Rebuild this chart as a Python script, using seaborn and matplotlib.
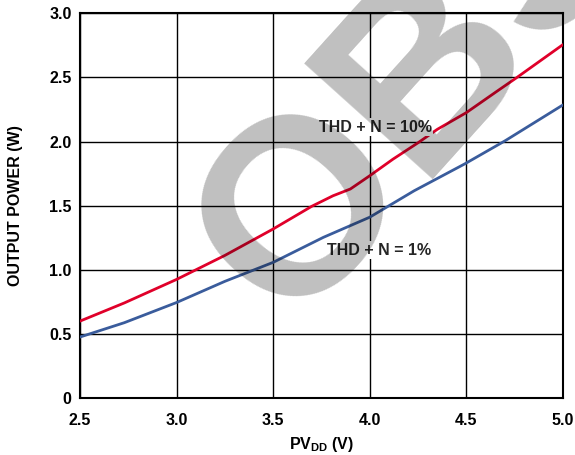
import numpy as np
import pandas as pd
import matplotlib
matplotlib.use("Agg")
import matplotlib.pyplot as plt
import seaborn as sns

# Output power vs supply voltage
pvdd_10 = [2.5, 2.73, 3.0, 3.25, 3.5, 3.7, 3.81, 3.9, 4.0, 4.12, 4.25, 4.35,
           4.5, 4.66, 4.76, 5.0]
thd10 = [0.60, 0.742, 0.925, 1.112, 1.318, 1.495, 1.577, 1.63, 1.733, 1.862,
         1.99, 2.095, 2.225, 2.393, 2.497, 2.755]
pvdd_1 = [2.5, 2.73, 3.0, 3.25, 3.5, 3.76, 4.0, 4.23, 4.49, 4.7, 5.0]
thd1 = [0.476, 0.588, 0.745, 0.91, 1.058, 1.253, 1.41, 1.616, 1.824, 2.005,
        2.285]

x_ticks = [2.5, 3.0, 3.5, 4.0, 4.5, 5.0]
x_ticklabels = ["2.5", "3.0", "3.5", "4.0", "4.5", "5.0"]
y_ticks = [0, 0.5, 1.0, 1.5, 2.0, 2.5, 3.0]
y_ticklabels = ["0", "0.5", "1.0", "1.5", "2.0", "2.5", "3.0"]

label_10 = "THD + N = 10%"
label_1 = "THD + N = 1%"
watermark = "OBSOLETE"

df = pd.concat([
    pd.DataFrame({"pvdd": pvdd_10, "power": thd10, "curve": label_10}),
    pd.DataFrame({"pvdd": pvdd_1, "power": thd1, "curve": label_1}),
], ignore_index=True)

sns.set_theme(style="white")
plt.rcParams["font.family"] = ["Liberation Sans", "DejaVu Sans"]
plt.rcParams["font.weight"] = "bold"
plt.rcParams["mathtext.fontset"] = "custom"
plt.rcParams["mathtext.bf"] = "Liberation Sans:bold"
plt.rcParams["mathtext.rm"] = "Liberation Sans:bold"

fig = plt.figure(figsize=(5.75, 4.55), dpi=100)
ax = fig.add_axes([0.139, 0.125, 0.840, 0.846])

sns.lineplot(data=df, x="pvdd", y="power", hue="curve",
             palette={label_10: "#E0002A", label_1: "#3A5C9C"},
             linewidth=2.0, legend=False, ax=ax, zorder=3)

ax.set_xlim(2.5, 5.0)
ax.set_ylim(0, 3.0)
ax.set_xticks(x_ticks)
ax.set_xticklabels(x_ticklabels)
ax.set_yticks(y_ticks)
ax.set_yticklabels(y_ticklabels)
ax.grid(True, color="black", linewidth=1.0)
ax.tick_params(axis="both", length=0, labelsize=11.5, colors="black")
ax.tick_params(axis="x", pad=11)
ax.tick_params(axis="y", pad=6)
for lbl in ax.get_xticklabels() + ax.get_yticklabels():
    lbl.set_fontweight("bold")
for sp in ax.spines.values():
    sp.set_color("black")
    sp.set_linewidth(1.5)

ax.set_xlabel(r"PV$_{\mathbf{DD}}$ (V)", fontsize=11.5, fontweight="bold",
              color="black", labelpad=5)
ax.set_ylabel("OUTPUT POWER (W)", fontsize=11.5, fontweight="bold",
              color="black", labelpad=19)

box = dict(facecolor="white", edgecolor="none", pad=1)
ax.text(4.03, 2.11, label_10, ha="center", va="center", fontsize=11.5,
        fontweight="bold", bbox=box, zorder=4)
ax.text(4.05, 1.152, label_1, ha="center", va="center", fontsize=11.5,
        fontweight="bold", bbox=box, zorder=4)

# "OBSOLETE" stamp: translucent black on top acts like a multiply blend,
# so black lines stay black and coloured lines just get darker
fig.text(0.5023, 0.280, watermark, rotation=48, rotation_mode="anchor",
         ha="left", va="baseline", fontsize=180, fontweight="bold",
         color="black", alpha=0.25, zorder=10)

fig.savefig("out.png", dpi=100)
